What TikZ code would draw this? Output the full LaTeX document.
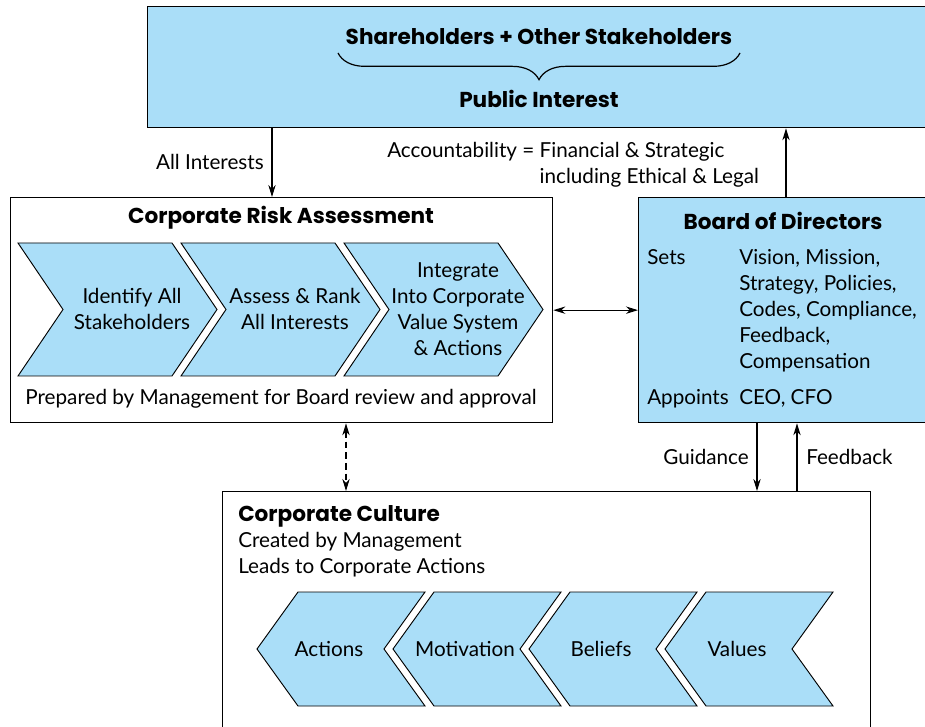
\documentclass[tikz,border=0pt]{standalone}
\usepackage{fontspec}
\setmainfont{Lato}
\newfontfamily\ttlfont{Poppins}
\usetikzlibrary{arrows.meta,decorations.pathreplacing}
\definecolor{boxblue}{RGB}{170,222,248}

\tikzset{
  bluebox/.style={draw, line width=1pt, fill=boxblue, anchor=north west, inner sep=0pt},
  whitebox/.style={draw, line width=1pt, fill=white, anchor=north west, inner sep=0pt},
  chev/.style={draw, line width=0.7pt, fill=boxblue},
  txt/.style={inner sep=0pt, font=\fontsize{15.5}{19.5}\selectfont},
  ttl/.style={inner sep=0pt, font=\fontsize{16.2}{19.5}\selectfont\ttlfont\bfseries},
  conn/.style={line width=0.8pt, -{Stealth[length=9pt,width=5.5pt]}},
  dconn/.style={line width=0.8pt, {Stealth[length=9pt,width=5.5pt]}-{Stealth[length=9pt,width=5.5pt]}},
}

\begin{document}
\begin{tikzpicture}[x=0.75pt, y=-0.75pt]
\useasboundingbox (0,0) rectangle (925,727);
\clip (0,0) rectangle (925,727);

% Boxes
\node[bluebox, minimum width=600pt, minimum height=90.75pt] (pub) at (147,6) {};
\node[whitebox, minimum width=406.5pt, minimum height=168.75pt] (cra) at (10,197) {};
\node[bluebox, minimum width=230pt, minimum height=168.75pt] (bod) at (638,197) {};
\node[whitebox, minimum width=486pt, minimum height=190pt] (cul) at (222,491) {};

% Public interest
\node[ttl] (sh) at (539,37) {Shareholders + Other Stakeholders};
\draw[line width=0.9pt, decorate, decoration={brace, amplitude=20pt}] (740,53) -- (338,53);
\node[ttl] (pi) at (539,99) {Public Interest};

% Risk assessment
\node[ttl] (crat) at (281,218) {Corporate Risk Assessment};
\foreach \x/\n/\t in {18/ida/{Identify All\\Stakeholders}, 181/asr/{Assess \& Rank\\All Interests}, 344/itg/{Integrate\\Into Corporate\\Value System\\\& Actions}} {
  \draw[chev] (\x,243) -- ++(154,0) -- ++(45,66.5) -- ++(-45,66.5) -- ++(-154,0) -- ++(45,-66.5) -- cycle;
  \node[txt, align=center] (\n) at (\x+114,309) {\t};
}
\node[txt] (prep) at (281,399) {Prepared by Management for Board review and approval};

% Board
\node[ttl] (bodt) at (783,221) {Board of Directors};
\node[txt, anchor=base west] (sets) at (647,265) {\begin{tabular}[t]{@{}p{69pt}@{}l@{}}
Sets & Vision, Mission,\\
 & Strategy, Policies,\\
 & Codes, Compliance,\\
 & Feedback,\\
 & Compensation\\[7pt]
Appoints & CEO, CFO
\end{tabular}};

% Culture
\node[txt, anchor=base west] (cult) at (238,521) {\begin{tabular}[t]{@{}l@{}}
{\fontsize{16.2}{19.5}\selectfont\ttlfont\bfseries Corporate Culture}\\
Created by Management\\
Leads to Corporate Actions
\end{tabular}};
\foreach \x/\n/\t in {257/act/Actions, 393/mot/Motivation, 529/bel/Beliefs, 665/val/Values} {
  \draw[chev] (\x,649) -- ++(41,-57) -- ++(127,0) -- ++(-41,57) -- ++(41,57) -- ++(-127,0) -- cycle;
  \node[txt] (\n) at (\x+72,649) {\t};
}

% Connectors
\coordinate (ax) at (272,0);
\coordinate (bx) at (786,0);
\coordinate (gx) at (757,0);
\coordinate (fx) at (797,0);
\coordinate (dx) at (346,0);
\draw[conn] (ax |- pub.south) -- (ax |- cra.north);
\node[txt, anchor=east] (allint) at (264,162) {All Interests};
\draw[conn] (bx |- bod.north) -- (bx |- pub.south);
\node[txt, anchor=west] (acc) at (387,165) {\begin{tabular}{@{}l@{ }l@{}}
Accountability = & Financial \& Strategic\\
 & including Ethical \& Legal
\end{tabular}};
\draw[dconn] (cra) -- (bod);
\draw[dconn, dash pattern=on 5pt off 3pt] (dx |- cra.south) -- (dx |- cul.north);
\draw[conn] (gx |- bod.south) -- (gx |- cul.north);
\draw[conn] (fx |- cul.north) -- (fx |- bod.south);
\node[txt, anchor=east] (guid) at (749,457) {Guidance};
\node[txt, anchor=west] (feed) at (806,457) {Feedback};
\end{tikzpicture}
\end{document}
